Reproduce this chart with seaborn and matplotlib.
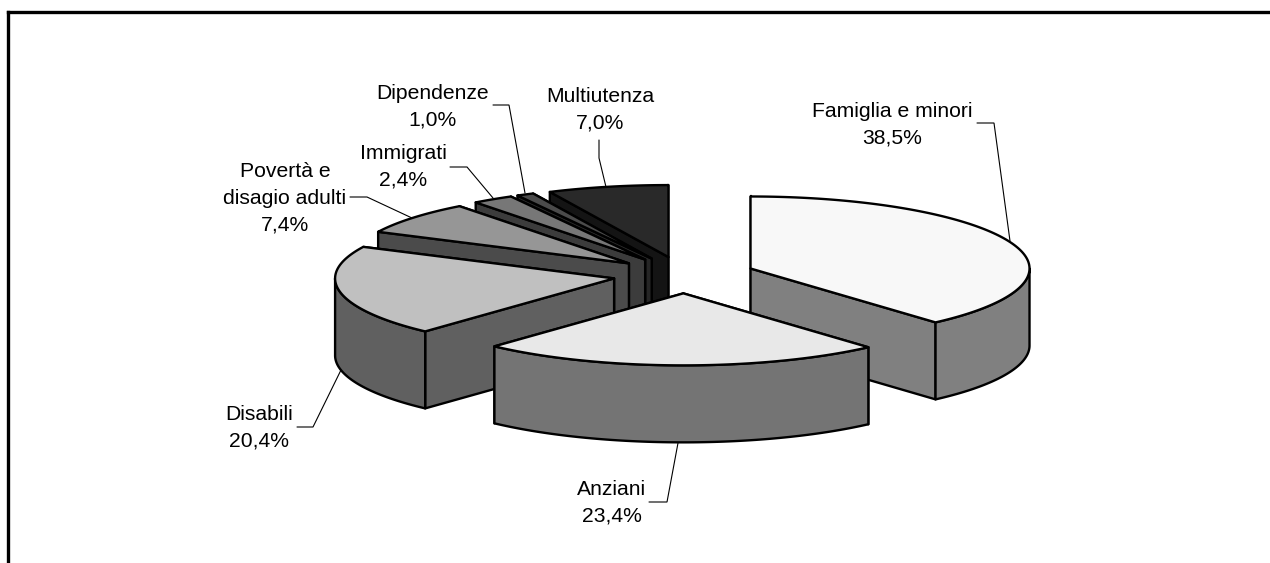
import matplotlib
matplotlib.use('Agg')
import numpy as np
import matplotlib.pyplot as plt
import seaborn as sns
from matplotlib.patches import Polygon

categories = ['Famiglia e minori', 'Anziani', 'Disabili', 'Povertà e\ndisagio adulti',
              'Immigrati', 'Dipendenze', 'Multiutenza']
values = [38.5, 23.4, 20.4, 7.4, 2.4, 1.0, 7.0]
top_colors = ['#f8f8f8', '#e8e8e8', '#c0c0c0', '#969696', '#777777', '#4b4b4b', '#292929']
side_colors = ['#808080', '#747474', '#606060', '#4b4b4b', '#3c3c3c', '#262626', '#141414']

# pie layout, in pixels of the figure
W, H = 1270, 563
CX, CY = 684, 275
RX, RY = 279, 72
DEPTH = 77
EXPLODE = 0.255

# label centres and leader elbows
label_pos = [(892, 124.5), (612, 503), (259, 428), (285, 198), (403, 167), (433, 106.5), (600, 109.5)]
leaders = [
    [(977, 123), (994, 123), (1010, 241)],
    [(649, 502), (667, 502), (678, 443)],
    [(297, 427), (313, 427), (341, 370)],
    [(350, 197), (367, 197), (412, 218)],
    [(450, 167), (467, 167), (493, 198)],
    [(493, 105), (509, 105), (525, 193)],
    [(599, 140), (599, 158), (606, 187)],
]

sns.set_theme(style='white')
plt.rcParams['font.family'] = ['Liberation Sans', 'DejaVu Sans']

fig = plt.figure(figsize=(W / 100, H / 100), dpi=100)
ax = fig.add_axes([8 / W, 0, (W - 8) / W, (H - 12) / H])
ax.set_xlim(8, W)
ax.set_ylim(H, 12)
ax.set_xticks([])
ax.set_yticks([])
sns.despine(ax=ax, top=False, right=True, bottom=True)
for side in ['left', 'top']:
    ax.spines[side].set_color('black')
    ax.spines[side].set_linewidth(2.4)


def rim(cx, cy, t):
    return np.column_stack([cx + RX * np.sin(t), cy - RY * np.cos(t)])


edges = np.radians(np.cumsum([0] + values) / sum(values) * 360)
slices = []
for i in range(len(values)):
    t0, t1 = edges[i], edges[i + 1]
    mid = (t0 + t1) / 2
    cx = CX + EXPLODE * RX * np.sin(mid)
    cy = CY - EXPLODE * RY * np.cos(mid)
    slices.append((cy, cx, t0, t1, i))

# back slices first
for cy, cx, t0, t1, i in sorted(slices):
    style = dict(edgecolor='black', linewidth=1.7, joinstyle='round')
    drop = np.array([0, DEPTH])
    apex = np.array([cx, cy])

    # cut faces, the one further back first
    faces = sorted([t0, t1], key=lambda t: -np.cos(t))
    for t in faces:
        p = rim(cx, cy, np.array([t]))[0]
        ax.add_patch(Polygon([apex, p, p + drop, apex + drop],
                             facecolor=side_colors[i], zorder=3, **style))

    # outer wall, only the front half shows
    a, b = max(t0, np.pi / 2), min(t1, 3 * np.pi / 2)
    if b > a:
        arc = rim(cx, cy, np.linspace(a, b, 80))
        ax.add_patch(Polygon(np.vstack([arc, (arc + drop)[::-1]]),
                             facecolor=side_colors[i], zorder=3, **style))

    arc = rim(cx, cy, np.linspace(t0, t1, 120))
    ax.add_patch(Polygon(np.vstack([apex, arc]), facecolor=top_colors[i], zorder=3, **style))

for name, val, pos, line in zip(categories, values, label_pos, leaders):
    txt = f'{name}\n{val:.1f}%'.replace('.', ',')
    ax.text(pos[0], pos[1], txt, ha='center', va='center', fontsize=15.2,
            linespacing=1.52, color='black', zorder=5)
    xs, ys = zip(*line)
    ax.plot(xs, ys, color='black', linewidth=0.8, zorder=4, solid_joinstyle='miter')

plt.savefig('out.png', dpi=100)
plt.close()
